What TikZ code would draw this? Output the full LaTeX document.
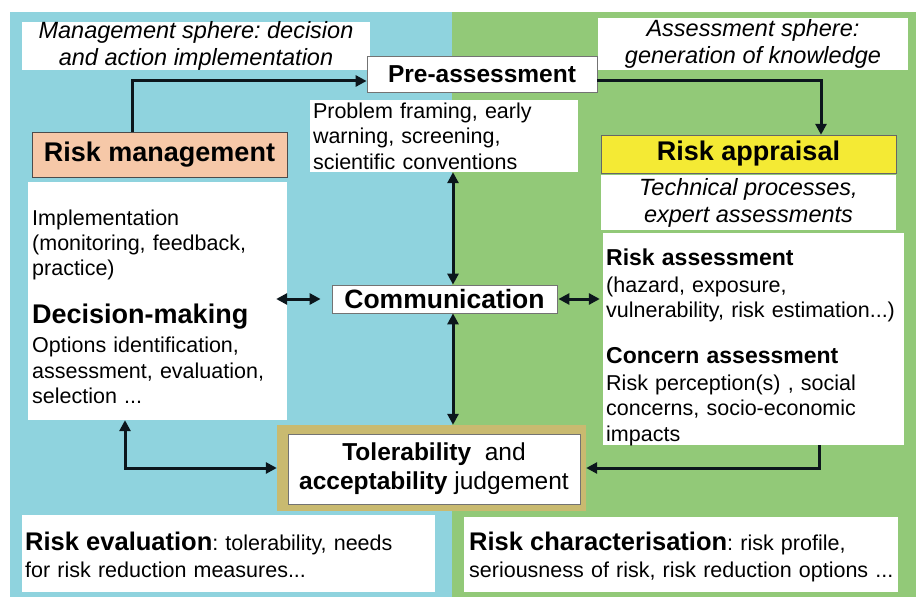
\documentclass[tikz,border=0pt]{standalone}
\usepackage{fontspec}
\setmainfont{Liberation Sans}
\usetikzlibrary{arrows.meta}
\frenchspacing

\definecolor{mgmtblue}{RGB}{143,211,222}
\definecolor{assessgreen}{RGB}{146,201,120}
\definecolor{peach}{RGB}{246,200,168}
\definecolor{appyellow}{RGB}{244,234,52}
\definecolor{khaki}{RGB}{201,186,112}
\definecolor{arrowink}{RGB}{12,22,28}

\newcommand{\bighead}{\fontsize{27}{30}\selectfont\bfseries}
\newcommand{\midhead}{\fontsize{23}{27}\selectfont\bfseries}
\newcommand{\bodytext}{\fontsize{21.5}{25.5}\selectfont}

\tikzset{
  whitebox/.style={fill=white, inner sep=0pt},
  framed/.style={whitebox, draw=black!55, line width=0.8pt},
  sphere/.style={whitebox, font=\fontsize{23.5}{27}\selectfont\itshape, align=center},
  body/.style={inner sep=0pt, anchor=base west, font=\bodytext, align=left},
  link/.style={draw=arrowink, line width=3pt, ->},
}

\begin{document}
\begin{tikzpicture}[x=1pt, y=-1pt, >={Triangle[length=11pt,width=11pt]}]
  \useasboundingbox (0,0) rectangle (916,599);
  \fill[mgmtblue] (10,12) rectangle (452,597);
  \fill[assessgreen] (452,12) rectangle (916,597);

  % spheres and top row
  \node[sphere, minimum width=348pt, minimum height=48pt] (mgmtsph) at (196,46) {Management sphere: decision\\and action implementation};
  \node[sphere, minimum width=310pt, minimum height=52pt] (asssph) at (753,44) {Assessment sphere:\\generation of knowledge};
  \node[framed, minimum width=230pt, minimum height=36pt, font=\fontsize{24.5}{28}\selectfont\bfseries] (pre) at (482,74) {Pre-assessment};
  \node[whitebox, text width=262pt, minimum height=72pt, inner xsep=3pt, align=left, font=\bodytext] (frame) at (444,136) {Problem framing, early\\warning, screening,\\scientific conventions};
  \node[draw=black!70, fill=peach, minimum width=255pt, minimum height=45pt, font=\bighead] (riskman) at (159.5,154.5) {Risk management};
  \node[draw=black!60, fill=appyellow, minimum width=295pt, minimum height=38pt, font=\bighead] (riskapp) at (748.5,154) {Risk appraisal};
  \node[sphere, minimum width=295pt, minimum height=55pt] (tech) at (748.5,202.5) {Technical processes,\\expert assessments};

  % management side
  \node[whitebox, minimum width=259pt, minimum height=238pt] (dec) at (157.5,301) {};
  \node[body, text width=250pt] (impl) at (32,225) {Implementation\\(monitoring, feedback,\\practice)};
  \node[body, text width=250pt] (decmk) at (32,323) {{\bighead Decision-making}\\[4pt]Options identification,\\assessment, evaluation,\\selection ...};

  % assessment side
  \node[whitebox, minimum width=301pt, minimum height=212pt] (ra) at (753.5,339) {};
  \node[body, text width=292pt] (riskass) at (606,265) {{\midhead Risk assessment}\\[1.5pt](hazard, exposure,\\vulnerability, risk estimation...)};
  \node[body, text width=292pt] (concern) at (606,363) {{\midhead Concern assessment}\\[1.5pt]Risk perception(s) , social\\concerns, socio-economic\\impacts};

  % centre
  \node[framed, minimum width=225pt, minimum height=28pt, font=\fontsize{26.5}{29}\selectfont\bfseries] (comm) at (444.5,299) {Communication};
  \node[fill=khaki, minimum width=309pt, minimum height=86pt] (tolo) at (431.5,468) {};
  \node[framed, minimum width=292pt, minimum height=70pt, align=center, font=\fontsize{24.5}{29}\selectfont] (tol) at (434,469) {\textbf{Tolerability}\ \ and\\\textbf{acceptability} judgement};

  % bottom row
  \node[whitebox, minimum width=413pt, minimum height=77pt] (reval) at (228.5,553.5) {};
  \node[body, text width=405pt] (revaltxt) at (25,550) {{\fontsize{25.5}{28}\selectfont\bfseries Risk evaluation}: tolerability, needs\\[1.5pt]for risk reduction measures...};
  \node[whitebox, minimum width=434pt, minimum height=75pt] (rchar) at (681,554.5) {};
  \node[body, text width=425pt] (rchartxt) at (469,550) {{\fontsize{25.5}{28}\selectfont\bfseries Risk characterisation}: risk profile,\\[1.5pt]seriousness of risk, risk reduction options ...};

  % arrows
  \coordinate (leftup) at (132,0);
  \coordinate (rightdown) at (821,0);
  \coordinate (midline) at (453,0);
  \coordinate (feedback) at (125,0);
  \coordinate (returnline) at (819,0);
  \draw[link] (riskman.north -| leftup) |- ([yshift=-7pt]pre.west);
  \draw[link] ([yshift=-7pt]pre.east) -| (riskapp.north -| rightdown);
  \draw[link, <->] (frame.south -| midline) -- (comm.north -| midline);
  \draw[link, <->] (comm.south -| midline) -- (tolo.north -| midline);
  \draw[link, <->] ([xshift=-11pt]dec.east |- comm.west) -- ([xshift=-11pt]comm.west);
  \draw[link, <->] ([xshift=1pt]comm.east) -- ([xshift=-3pt]ra.west |- comm.east);
  \draw[link] (ra.south -| returnline) |- (tolo.east);
  \draw[link, <->] (dec.south -| feedback) |- (tolo.west);
\end{tikzpicture}
\end{document}
